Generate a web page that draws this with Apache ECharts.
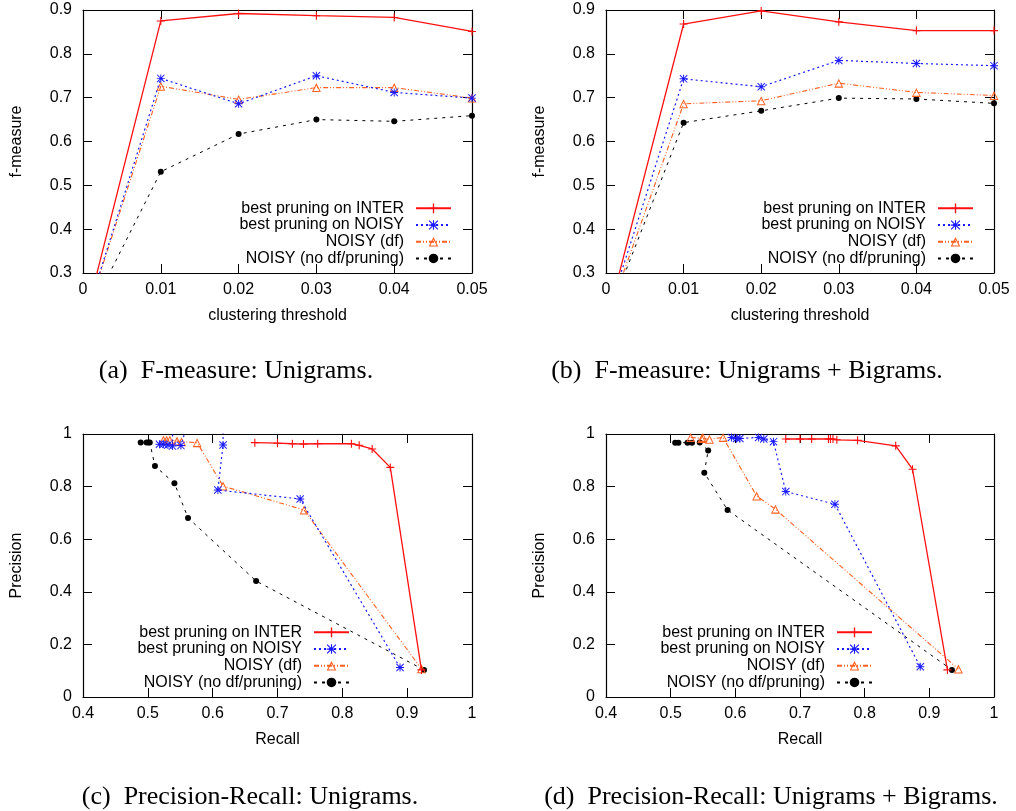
<!DOCTYPE html>
<html>
<head>
<meta charset="utf-8">
<script src="https://cdn.jsdelivr.net/npm/echarts@6/dist/echarts.min.js"></script>
<style>
  html, body { margin: 0; padding: 0; background: #fff; }
  #chart { width: 1016px; height: 811px; }
</style>
</head>
<body>
<div id="chart"></div>
<script>
// ---- series names (legend entries) ----
const seriesNames = ['best pruning on INTER', 'best pruning on NOISY', 'NOISY (df)', 'NOISY (no df/pruning)'];

// ---- F-measure vs clustering threshold ----
const thresholds = [0, 0.01, 0.02, 0.03, 0.04, 0.05];
// unigrams
const uniInter     = [0.174, 0.875, 0.892, 0.887, 0.883, 0.851];
const uniNoisyBest = [0.179, 0.744, 0.686, 0.750, 0.712, 0.699];
const uniNoisyDf   = [0.180, 0.726, 0.696, 0.723, 0.723, 0.699];
const uniNoisyRaw  = [0.180, 0.531, 0.617, 0.650, 0.646, 0.659];
// unigrams + bigrams
const biInter      = [0.182, 0.868, 0.898, 0.873, 0.853, 0.853];
const biNoisyBest  = [0.194, 0.743, 0.725, 0.785, 0.778, 0.773];
const biNoisyDf    = [0.189, 0.686, 0.693, 0.733, 0.712, 0.705];
const biNoisyRaw   = [0.189, 0.643, 0.670, 0.699, 0.697, 0.687];

// ---- precision / recall curves: [recall, precision] ----
// unigrams
const prUniInter = [[0.665, 0.967], [0.700, 0.965], [0.723, 0.963], [0.740, 0.962], [0.762, 0.963],
                    [0.814, 0.963], [0.826, 0.957], [0.846, 0.943], [0.874, 0.873], [0.922, 0.103]];
const prUniNoisyBest = [[0.889, 0.112], [0.735, 0.753], [0.608, 0.787], [0.616, 0.958], [0.617, 1.5],
                        [0.551, 0.956], [0.518, 0.961], [0.524, 0.961], [0.531, 0.958], [0.538, 0.954], [0.540, 1.5]];
const prUniNoisyDf = [[0.524, 0.977], [0.529, 0.977], [0.534, 0.977], [0.545, 0.973], [0.552, 0.971],
                      [0.576, 0.967], [0.616, 0.802], [0.741, 0.711], [0.922, 0.107]];
const prUniNoisyRaw = [[0.489, 0.968], [0.498, 0.968], [0.501, 0.968], [0.503, 0.968], [0.511, 0.878],
                       [0.541, 0.813], [0.562, 0.681], [0.667, 0.441], [0.926, 0.103]];
// unigrams + bigrams
const prBiInter = [[0.678, 0.981], [0.700, 0.981], [0.718, 0.981], [0.744, 0.981], [0.747, 0.981],
                   [0.751, 0.981], [0.757, 0.978], [0.789, 0.976], [0.848, 0.955], [0.874, 0.866], [0.928, 0.103]];
const prBiNoisyBest = [[0.594, 0.987], [0.602, 0.983], [0.607, 0.983], [0.636, 0.987], [0.644, 0.981],
                       [0.659, 0.971], [0.678, 0.781], [0.754, 0.733], [0.886, 0.115]];
const prBiNoisyDf = [[0.531, 0.987], [0.548, 0.983], [0.550, 0.987], [0.560, 0.980], [0.581, 0.987],
                     [0.633, 0.764], [0.662, 0.714], [0.945, 0.106]];
const prBiNoisyRaw = [[0.507, 0.967], [0.512, 0.967], [0.526, 0.967], [0.533, 0.967], [0.545, 0.968],
                      [0.558, 0.937], [0.552, 0.853], [0.588, 0.711], [0.935, 0.103]];

// ---- axis ticks ----
const thresholdTicks = [0, 0.01, 0.02, 0.03, 0.04, 0.05];
const fmeasureTicks  = [0.3, 0.4, 0.5, 0.6, 0.7, 0.8, 0.9];
const recallTicks    = [0.4, 0.5, 0.6, 0.7, 0.8, 0.9, 1];
const precisionTicks = [0, 0.2, 0.4, 0.6, 0.8, 1];

// ---- captions ----
const captions = [
  '(a)  F-measure: Unigrams.',
  '(b)  F-measure: Unigrams + Bigrams.',
  '(c)  Precision-Recall: Unigrams.',
  '(d)  Precision-Recall: Unigrams + Bigrams.'
];

const SANS = '"Liberation Sans", Helvetica, Arial, sans-serif';
const SERIF = '"Liberation Serif", "Times New Roman", serif';

// glyph-like markers
const PLUS = 'path://M4.3,0h1.4v4.3h4.3v1.4h-4.3v4.3h-1.4v-4.3h-4.3v-1.4h4.3z';
const STAR = 'path://M4.4,0h1.2v10h-1.2z M0,4.4h10v1.2h-10z M0,0.85L0.85,0L10,9.15L9.15,10z M9.15,0L10,0.85L0.85,10L0,9.15z';
const TRI  = 'path://M5,0L10,9L0,9Z M5,2.3L1.7,7.9L8.3,7.9Z';

const styles = [
  { color: '#ff1010', width: 1.3, dash: 'solid',             symbol: PLUS,     size: 8 },
  { color: '#1a1aff', width: 1.2, dash: [2, 3],              symbol: STAR,     size: 8 },
  { color: '#ff6020', width: 1.1, dash: [5, 2, 1, 2, 1, 2],  symbol: TRI,      size: 9 },
  { color: '#000000', width: 1.0, dash: [3, 5],              symbol: 'circle', size: 6 }
];

const panels = [
  { left: 83,  top: 10,  width: 389, height: 263, xTicks: thresholdTicks, yTicks: fmeasureTicks,
    xName: 'clustering threshold', yName: 'f-measure', legendRight: 564, legendTop: 200,
    data: [uniInter, uniNoisyBest, uniNoisyDf, uniNoisyRaw].map(v => v.map((y, i) => [thresholds[i], y])) },
  { left: 606, top: 10,  width: 388, height: 263, xTicks: thresholdTicks, yTicks: fmeasureTicks,
    xName: 'clustering threshold', yName: 'f-measure', legendRight: 42, legendTop: 200,
    data: [biInter, biNoisyBest, biNoisyDf, biNoisyRaw].map(v => v.map((y, i) => [thresholds[i], y])) },
  { left: 83,  top: 434, width: 389, height: 263, xTicks: recallTicks, yTicks: precisionTicks,
    xName: 'Recall', yName: 'Precision', legendRight: 666, legendTop: 624,
    data: [prUniInter, prUniNoisyBest, prUniNoisyDf, prUniNoisyRaw] },
  { left: 606, top: 434, width: 388, height: 263, xTicks: recallTicks, yTicks: precisionTicks,
    xName: 'Recall', yName: 'Precision', legendRight: 143, legendTop: 624,
    data: [prBiInter, prBiNoisyBest, prBiNoisyDf, prBiNoisyRaw] }
];

const captionPos = [[236, 371], [747, 371], [250, 797], [771, 797]];

const grid = [], xAxis = [], yAxis = [], series = [], legend = [];

function axisBase(ticks, showLabels) {
  return {
    type: 'value',
    min: ticks[0],
    max: ticks[ticks.length - 1],
    interval: +(ticks[1] - ticks[0]).toFixed(6),
    axisLine: { show: true, onZero: false, lineStyle: { color: '#000', width: 1.2 } },
    axisTick: { show: true, inside: true, length: 9, lineStyle: { color: '#000', width: 1 } },
    axisLabel: {
      show: showLabels, color: '#000', fontSize: 16, fontFamily: SANS,
      formatter: v => String(+v.toFixed(4))
    },
    splitLine: { show: false }
  };
}

panels.forEach((p, k) => {
  grid.push({ left: p.left, top: p.top, width: p.width, height: p.height, containLabel: false });

  xAxis.push(Object.assign(axisBase(p.xTicks, true), {
    gridIndex: k, position: 'bottom',
    name: p.xName, nameLocation: 'middle', nameGap: 35,
    nameTextStyle: { color: '#000', fontSize: 16, fontFamily: SANS }
  }));
  xAxis[xAxis.length - 1].axisLabel.margin = 9;
  xAxis.push(Object.assign(axisBase(p.xTicks, false), { gridIndex: k, position: 'top' }));

  yAxis.push(Object.assign(axisBase(p.yTicks, true), {
    gridIndex: k, position: 'left',
    name: p.yName, nameLocation: 'middle', nameGap: 58,
    nameTextStyle: { color: '#000', fontSize: 16, fontFamily: SANS }
  }));
  yAxis[yAxis.length - 1].axisLabel.margin = 11;
  yAxis.push(Object.assign(axisBase(p.yTicks, false), { gridIndex: k, position: 'right' }));

  p.data.forEach((d, s) => {
    const st = styles[s];
    series.push({
      type: 'line',
      name: seriesNames[s],
      xAxisIndex: 2 * k,
      yAxisIndex: 2 * k,
      data: d,
      clip: true,
      symbol: st.symbol,
      symbolSize: st.size,
      showAllSymbol: true,
      lineStyle: { color: st.color, width: st.width, type: st.dash },
      itemStyle: { color: st.color },
      emphasis: { disabled: true },
      z: 10 - s
    });
  });

  legend.push({
    orient: 'vertical',
    align: 'right',
    right: p.legendRight,
    top: p.legendTop,
    padding: 0,
    itemGap: 0,
    itemWidth: 35,
    itemHeight: 12,
    selectedMode: false,
    textStyle: { color: '#000', fontSize: 16, fontFamily: SANS, lineHeight: 16.7, padding: [0, 7, 0, 0] },
    data: seriesNames
  });
});

const graphic = captions.map((t, i) => ({
  type: 'text',
  x: captionPos[i][0],
  y: captionPos[i][1],
  style: {
    text: t, fill: '#000', font: '26px ' + SERIF,
    textAlign: 'center', textVerticalAlign: 'middle'
  }
}));

const chart = echarts.init(document.getElementById('chart'), null, { renderer: 'canvas' });
chart.setOption({
  animation: false,
  backgroundColor: '#fff',
  grid, xAxis, yAxis, series, legend, graphic
});
</script>
</body>
</html>
